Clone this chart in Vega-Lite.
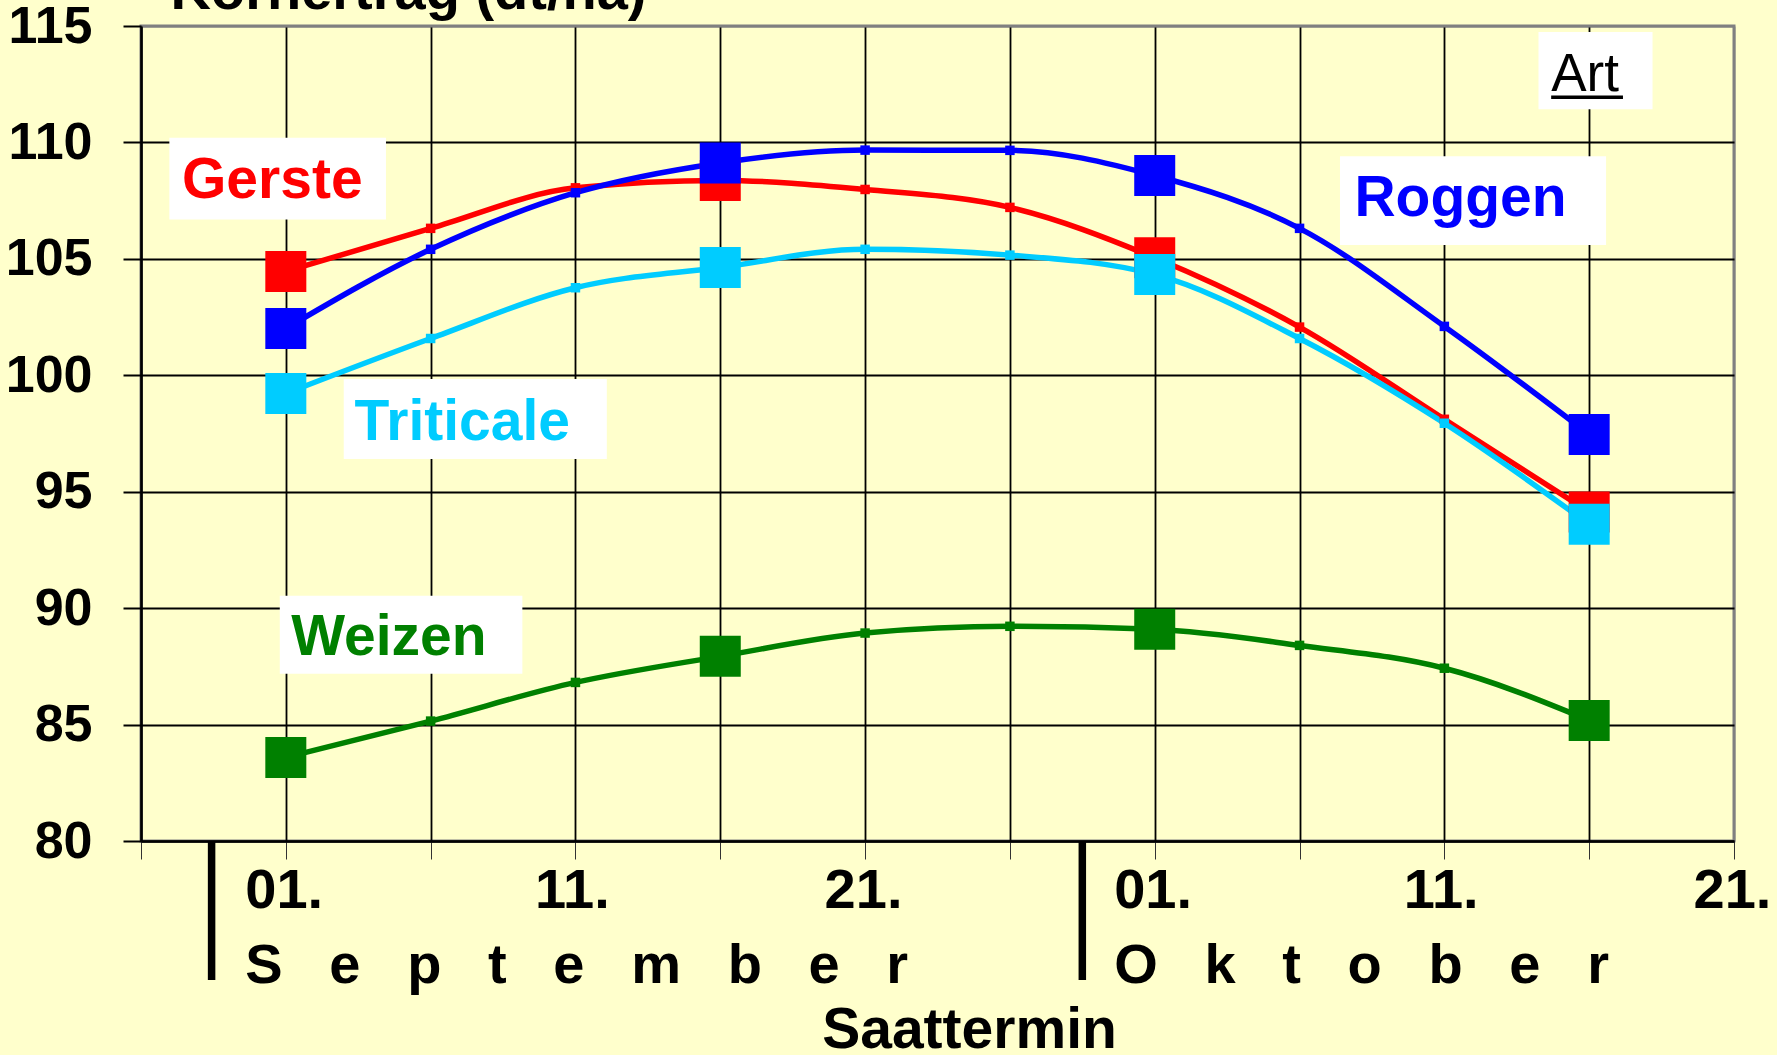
{
  "$schema": "https://vega.github.io/schema/vega-lite/v6.json",
  "width": 1593,
  "height": 815,
  "autosize": {"type": "none"},
  "padding": {"left": 141, "top": 26, "right": 43, "bottom": 214},
  "background": "#FFFFCC",
  "config": {
    "font": "Liberation Sans",
    "view": {"stroke": "#808080", "strokeWidth": 3}
  },
  "datasets": {
    "ertrag": [
      {"Art": "Gerste", "Datum": "2000-09-01", "Ertrag": 104.46},
      {"Art": "Gerste", "Datum": "2000-09-06", "Ertrag": 106.31},
      {"Art": "Gerste", "Datum": "2000-09-11", "Ertrag": 108.05},
      {"Art": "Gerste", "Datum": "2000-09-16", "Ertrag": 108.37},
      {"Art": "Gerste", "Datum": "2000-09-21", "Ertrag": 107.98},
      {"Art": "Gerste", "Datum": "2000-09-26", "Ertrag": 107.21},
      {"Art": "Gerste", "Datum": "2000-10-01", "Ertrag": 105.05},
      {"Art": "Gerste", "Datum": "2000-10-06", "Ertrag": 102.07},
      {"Art": "Gerste", "Datum": "2000-10-11", "Ertrag": 98.11},
      {"Art": "Gerste", "Datum": "2000-10-16", "Ertrag": 94.13},
      {"Art": "Roggen", "Datum": "2000-09-01", "Ertrag": 102.01},
      {"Art": "Roggen", "Datum": "2000-09-06", "Ertrag": 105.41},
      {"Art": "Roggen", "Datum": "2000-09-11", "Ertrag": 107.84},
      {"Art": "Roggen", "Datum": "2000-09-16", "Ertrag": 109.12},
      {"Art": "Roggen", "Datum": "2000-09-21", "Ertrag": 109.67},
      {"Art": "Roggen", "Datum": "2000-09-26", "Ertrag": 109.66},
      {"Art": "Roggen", "Datum": "2000-10-01", "Ertrag": 108.58},
      {"Art": "Roggen", "Datum": "2000-10-06", "Ertrag": 106.31},
      {"Art": "Roggen", "Datum": "2000-10-11", "Ertrag": 102.10},
      {"Art": "Roggen", "Datum": "2000-10-16", "Ertrag": 97.46},
      {"Art": "Triticale", "Datum": "2000-09-01", "Ertrag": 99.22},
      {"Art": "Triticale", "Datum": "2000-09-06", "Ertrag": 101.58},
      {"Art": "Triticale", "Datum": "2000-09-11", "Ertrag": 103.76},
      {"Art": "Triticale", "Datum": "2000-09-16", "Ertrag": 104.63},
      {"Art": "Triticale", "Datum": "2000-09-21", "Ertrag": 105.41},
      {"Art": "Triticale", "Datum": "2000-09-26", "Ertrag": 105.16},
      {"Art": "Triticale", "Datum": "2000-10-01", "Ertrag": 104.33},
      {"Art": "Triticale", "Datum": "2000-10-06", "Ertrag": 101.58},
      {"Art": "Triticale", "Datum": "2000-10-11", "Ertrag": 97.94},
      {"Art": "Triticale", "Datum": "2000-10-16", "Ertrag": 93.60},
      {"Art": "Weizen", "Datum": "2000-09-01", "Ertrag": 83.59},
      {"Art": "Weizen", "Datum": "2000-09-06", "Ertrag": 85.15},
      {"Art": "Weizen", "Datum": "2000-09-11", "Ertrag": 86.81},
      {"Art": "Weizen", "Datum": "2000-09-16", "Ertrag": 87.93},
      {"Art": "Weizen", "Datum": "2000-09-21", "Ertrag": 88.93},
      {"Art": "Weizen", "Datum": "2000-09-26", "Ertrag": 89.22},
      {"Art": "Weizen", "Datum": "2000-10-01", "Ertrag": 89.09},
      {"Art": "Weizen", "Datum": "2000-10-06", "Ertrag": 88.40},
      {"Art": "Weizen", "Datum": "2000-10-11", "Ertrag": 87.42},
      {"Art": "Weizen", "Datum": "2000-10-16", "Ertrag": 85.18}
    ],
    "beschriftung": [
      {"Art": "Gerste", "von": "2000-08-27T23:30:00Z", "bis": "2000-09-04T11:00:00Z", "oben": 110.20, "unten": 106.69, "Textbeginn": "2000-08-28T10:00:00Z", "Grundlinie": 107.60},
      {"Art": "Roggen", "von": "2000-10-07T09:30:00Z", "bis": "2000-10-16T14:00:00Z", "oben": 109.41, "unten": 105.60, "Textbeginn": "2000-10-07T21:30:00Z", "Grundlinie": 106.84},
      {"Art": "Triticale", "von": "2000-09-03T00:00:00Z", "bis": "2000-09-12T02:00:00Z", "oben": 99.84, "unten": 96.40, "Textbeginn": "2000-09-03T09:00:00Z", "Grundlinie": 97.22},
      {"Art": "Weizen", "von": "2000-08-31T19:00:00Z", "bis": "2000-09-09T04:00:00Z", "oben": 90.53, "unten": 87.18, "Textbeginn": "2000-09-01T04:30:00Z", "Grundlinie": 87.99}
    ],
    "legende": [
      {"Titel": "Art", "von": "2000-10-14T06:00:00Z", "bis": "2000-10-18T04:30:00Z", "oben": 114.74, "unten": 111.43, "Textbeginn": "2000-10-14T16:30:00Z", "Grundlinie": 112.20, "Linie": 111.94, "Linienende": "2000-10-17T04:00:00Z"}
    ],
    "monatsgrenzen": [
      {"Grenze": "2000-08-29T10:30:00Z", "oben": 80, "unten": 74.03},
      {"Grenze": "2000-09-28T12:00:00Z", "oben": 80, "unten": 74.03}
    ]
  },
  "layer": [
    {
      "data": {"name": "beschriftung"},
      "mark": {"type": "rect", "fill": "#FFFFFF"},
      "encoding": {
        "x": {
          "field": "von", "type": "temporal",
          "scale": {"type": "utc", "domain": [{"year": 2000, "month": 8, "date": 27, "utc": true}, {"year": 2000, "month": 10, "date": 21, "utc": true}]},
          "axis": {
            "values": [
              {"year": 2000, "month": 8, "date": 27, "utc": true},
              {"year": 2000, "month": 9, "date": 1, "utc": true},
              {"year": 2000, "month": 9, "date": 6, "utc": true},
              {"year": 2000, "month": 9, "date": 11, "utc": true},
              {"year": 2000, "month": 9, "date": 16, "utc": true},
              {"year": 2000, "month": 9, "date": 21, "utc": true},
              {"year": 2000, "month": 9, "date": 26, "utc": true},
              {"year": 2000, "month": 10, "date": 1, "utc": true},
              {"year": 2000, "month": 10, "date": 6, "utc": true},
              {"year": 2000, "month": 10, "date": 11, "utc": true},
              {"year": 2000, "month": 10, "date": 16, "utc": true},
              {"year": 2000, "month": 10, "date": 21, "utc": true}
            ],
            "labelExpr": "utcdate(datum.value) % 10 == 1 ? (utcdate(datum.value) == 1 ? ['01.', utcmonth(datum.value) == 8 ? 'S\u00a0\u00a0\u00a0e\u00a0\u00a0\u00a0p\u00a0\u00a0\u00a0t\u00a0\u00a0\u00a0e\u00a0\u00a0\u00a0m\u00a0\u00a0\u00a0b\u00a0\u00a0\u00a0e\u00a0\u00a0\u00a0r' : 'O\u00a0\u00a0\u00a0k\u00a0\u00a0\u00a0t\u00a0\u00a0\u00a0o\u00a0\u00a0\u00a0b\u00a0\u00a0\u00a0e\u00a0\u00a0\u00a0r'] : utcFormat(datum.value, '%d.')) : ''",
            "grid": true,
            "gridColor": {"condition": {"test": "utcmonth(datum.value) == 9 && utcdate(datum.value) == 21", "value": "#808080"}, "value": "#000000"},
            "gridWidth": 1.8,
            "gridOpacity": 1,
            "domainColor": "#000000",
            "domainWidth": 2.5,
            "tickColor": "#333333",
            "tickWidth": 1,
            "tickSize": 18,
            "labelAlign": "left",
            "labelOffset": -41,
            "labelBaseline": "alphabetic",
            "labelPadding": 48,
            "labelLineHeight": 75,
            "labelFontSize": 56,
            "labelFontWeight": "bold",
            "labelColor": "#000000",
            "labelLimit": 0,
            "labelFlush": false,
            "labelOverlap": false,
            "labelBound": false,
            "title": "Saattermin",
            "titleFontSize": 57,
            "titleFontWeight": "bold",
            "titleColor": "#000000",
            "titleAlign": "center",
            "titleBaseline": "alphabetic",
            "titleX": 828,
            "titleY": 206
          }
        },
        "x2": {"field": "bis"},
        "y": {
          "field": "oben", "type": "quantitative",
          "scale": {"domain": [80, 115], "nice": false, "zero": false},
          "axis": {
            "values": [80, 85, 90, 95, 100, 105, 110, 115],
            "grid": true,
            "gridColor": {"condition": {"test": "datum.value == 115", "value": "#808080"}, "value": "#000000"},
            "gridWidth": 1.8,
            "gridOpacity": 1,
            "domainColor": "#000000",
            "domainWidth": 2.5,
            "tickColor": "#000000",
            "tickWidth": 2,
            "tickSize": 18,
            "labelFontSize": 52,
            "labelFontWeight": "bold",
            "labelColor": "#000000",
            "labelPadding": 31,
            "labelFlush": false,
            "labelOverlap": false,
            "labelBound": false,
            "title": "Kornertrag (dt/ha)",
            "titleFontSize": 56,
            "titleFontWeight": "bold",
            "titleColor": "#000000",
            "titleAngle": 0,
            "titleAlign": "left",
            "titleBaseline": "alphabetic",
            "titleX": 29,
            "titleY": -18
          }
        },
        "y2": {"field": "unten"}
      }
    },
    {
      "data": {"name": "legende"},
      "mark": {"type": "rect", "fill": "#FFFFFF"},
      "encoding": {
        "x": {"field": "von", "type": "temporal",
          "scale": {"type": "utc", "domain": [{"year": 2000, "month": 8, "date": 27, "utc": true}, {"year": 2000, "month": 10, "date": 21, "utc": true}]}},
        "x2": {"field": "bis"},
        "y": {"field": "oben", "type": "quantitative", "scale": {"domain": [80, 115], "nice": false, "zero": false}},
        "y2": {"field": "unten"}
      }
    },
    {
      "data": {"name": "monatsgrenzen"},
      "mark": {"type": "rule", "color": "#000000", "strokeWidth": 7.5},
      "encoding": {
        "x": {"field": "Grenze", "type": "temporal",
          "scale": {"type": "utc", "domain": [{"year": 2000, "month": 8, "date": 27, "utc": true}, {"year": 2000, "month": 10, "date": 21, "utc": true}]}},
        "y": {"field": "oben", "type": "quantitative", "scale": {"domain": [80, 115], "nice": false, "zero": false}},
        "y2": {"field": "unten"}
      }
    },
    {
      "data": {"name": "ertrag"},
      "mark": {"type": "line", "interpolate": "monotone", "strokeWidth": 5.5},
      "encoding": {
        "x": {"field": "Datum", "type": "temporal",
          "scale": {"type": "utc", "domain": [{"year": 2000, "month": 8, "date": 27, "utc": true}, {"year": 2000, "month": 10, "date": 21, "utc": true}]}},
        "y": {"field": "Ertrag", "type": "quantitative", "scale": {"domain": [80, 115], "nice": false, "zero": false}},
        "color": {"field": "Art", "type": "nominal", "legend": null,
          "scale": {"domain": ["Gerste", "Roggen", "Triticale", "Weizen"], "range": ["#FF0000", "#0000FF", "#00CCFF", "#008000"]}}
      }
    },
    {
      "data": {"name": "ertrag"},
      "mark": {"type": "point", "shape": "square", "filled": true, "opacity": 1, "size": 90, "strokeWidth": 0},
      "encoding": {
        "x": {"field": "Datum", "type": "temporal",
          "scale": {"type": "utc", "domain": [{"year": 2000, "month": 8, "date": 27, "utc": true}, {"year": 2000, "month": 10, "date": 21, "utc": true}]}},
        "y": {"field": "Ertrag", "type": "quantitative", "scale": {"domain": [80, 115], "nice": false, "zero": false}},
        "color": {"field": "Art", "type": "nominal", "legend": null,
          "scale": {"domain": ["Gerste", "Roggen", "Triticale", "Weizen"], "range": ["#FF0000", "#0000FF", "#00CCFF", "#008000"]}}
      }
    },
    {
      "data": {"name": "ertrag"},
      "transform": [{"filter": "utcdate(datum.Datum) == 1 || utcdate(datum.Datum) == 16"}],
      "mark": {"type": "point", "shape": "square", "filled": true, "opacity": 1, "size": 1681, "strokeWidth": 0},
      "encoding": {
        "x": {"field": "Datum", "type": "temporal",
          "scale": {"type": "utc", "domain": [{"year": 2000, "month": 8, "date": 27, "utc": true}, {"year": 2000, "month": 10, "date": 21, "utc": true}]}},
        "y": {"field": "Ertrag", "type": "quantitative", "scale": {"domain": [80, 115], "nice": false, "zero": false}},
        "color": {"field": "Art", "type": "nominal", "legend": null,
          "scale": {"domain": ["Gerste", "Roggen", "Triticale", "Weizen"], "range": ["#FF0000", "#0000FF", "#00CCFF", "#008000"]}}
      }
    },
    {
      "data": {"name": "beschriftung"},
      "mark": {"type": "text", "align": "left", "baseline": "alphabetic", "fontSize": 57, "fontWeight": "bold"},
      "encoding": {
        "x": {"field": "Textbeginn", "type": "temporal",
          "scale": {"type": "utc", "domain": [{"year": 2000, "month": 8, "date": 27, "utc": true}, {"year": 2000, "month": 10, "date": 21, "utc": true}]}},
        "y": {"field": "Grundlinie", "type": "quantitative", "scale": {"domain": [80, 115], "nice": false, "zero": false}},
        "text": {"field": "Art"},
        "color": {"field": "Art", "type": "nominal", "legend": null,
          "scale": {"domain": ["Gerste", "Roggen", "Triticale", "Weizen"], "range": ["#FF0000", "#0000FF", "#00CCFF", "#008000"]}}
      }
    },
    {
      "data": {"name": "legende"},
      "mark": {"type": "text", "align": "left", "baseline": "alphabetic", "fontSize": 53, "fontWeight": "normal", "color": "#000000"},
      "encoding": {
        "x": {"field": "Textbeginn", "type": "temporal",
          "scale": {"type": "utc", "domain": [{"year": 2000, "month": 8, "date": 27, "utc": true}, {"year": 2000, "month": 10, "date": 21, "utc": true}]}},
        "y": {"field": "Grundlinie", "type": "quantitative", "scale": {"domain": [80, 115], "nice": false, "zero": false}},
        "text": {"field": "Titel"}
      }
    },
    {
      "data": {"name": "legende"},
      "mark": {"type": "rule", "color": "#000000", "strokeWidth": 3.5},
      "encoding": {
        "x": {"field": "Textbeginn", "type": "temporal",
          "scale": {"type": "utc", "domain": [{"year": 2000, "month": 8, "date": 27, "utc": true}, {"year": 2000, "month": 10, "date": 21, "utc": true}]}},
        "x2": {"field": "Linienende"},
        "y": {"field": "Linie", "type": "quantitative", "scale": {"domain": [80, 115], "nice": false, "zero": false}}
      }
    }
  ]
}
